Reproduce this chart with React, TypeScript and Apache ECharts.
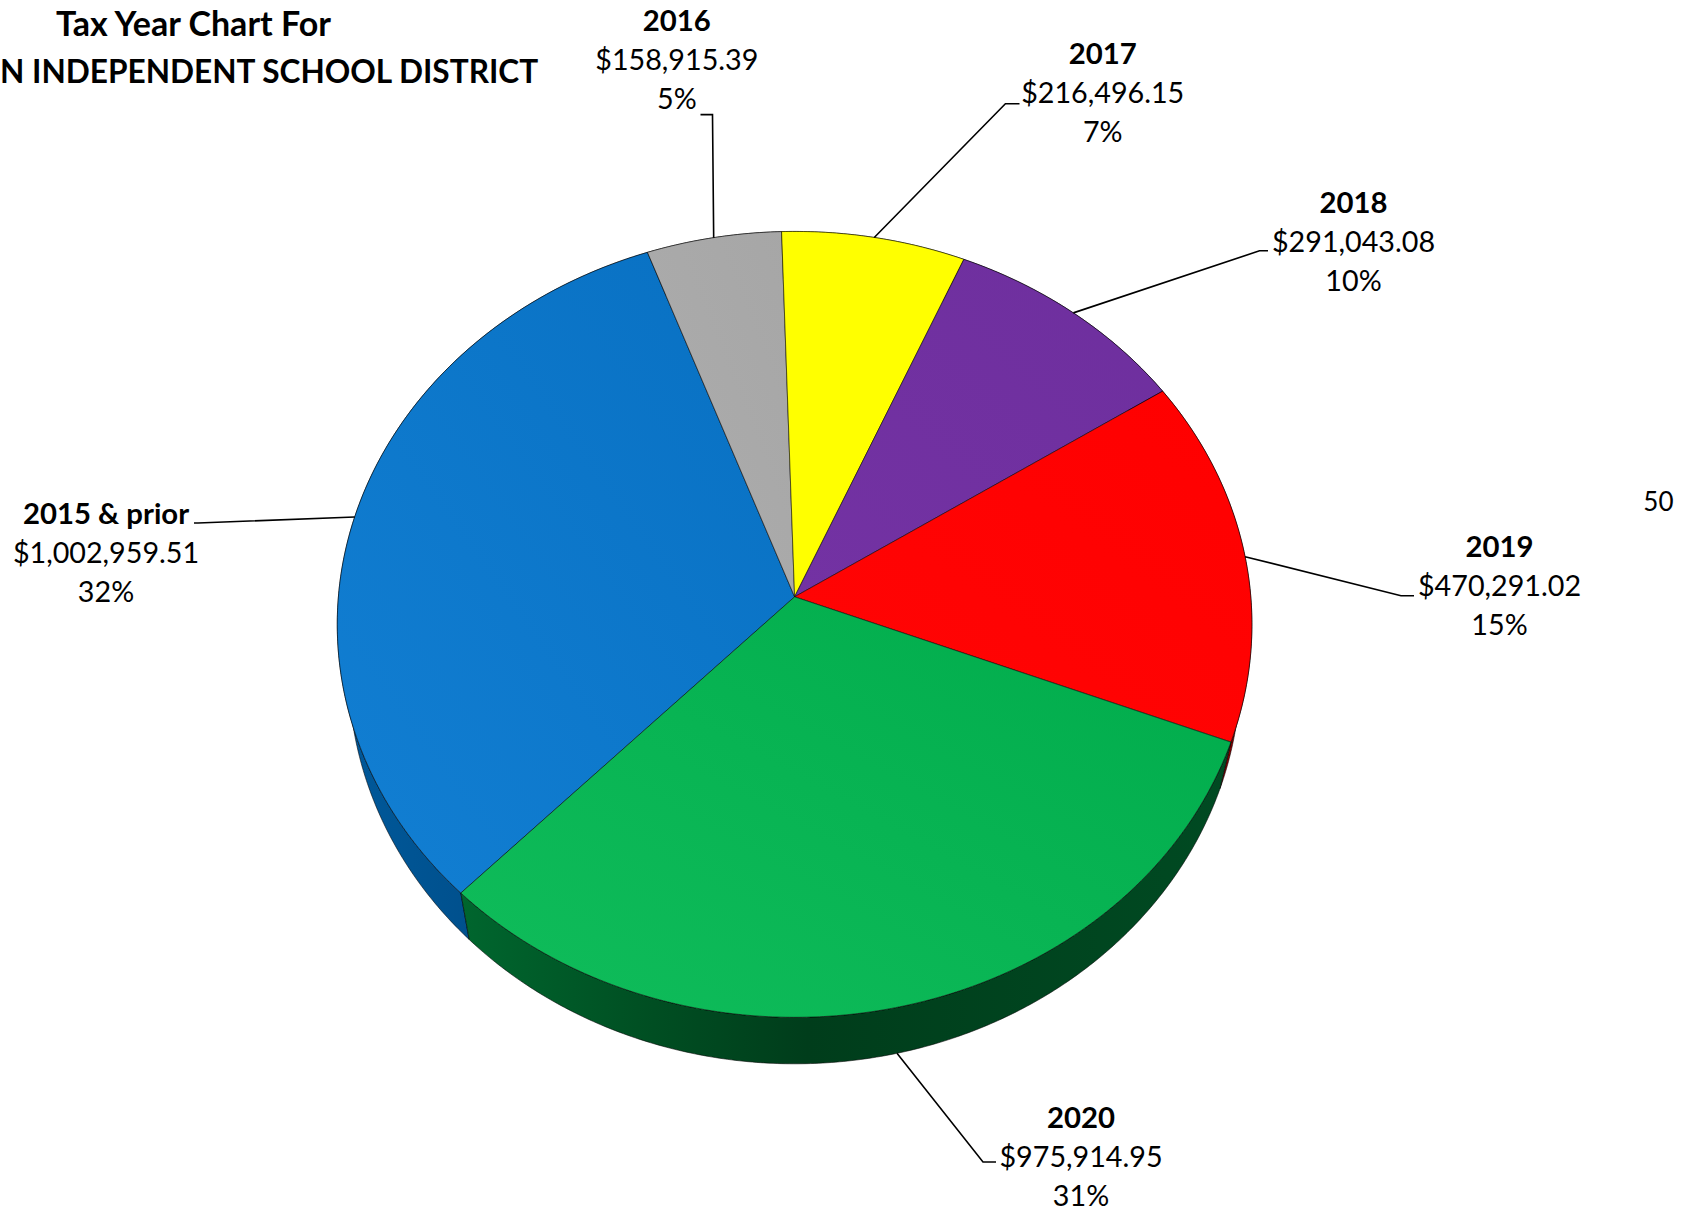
import React, { useEffect, useRef } from "react";
import * as echarts from "echarts";

const categories = ["2015 & prior", "2016", "2017", "2018", "2019", "2020"];
const amounts = [1002959.51, 158915.39, 216496.15, 291043.08, 470291.02, 975914.95];
const percentLabels = ["32%", "5%", "7%", "10%", "15%", "31%"];
const titleLines = ["Tax Year Chart For", "N INDEPENDENT SCHOOL DISTRICT"];
const strayLabel = "50";

const topFills = [
  ["#127fd3", "#0870c2"],
  ["#adadad", "#a6a6a6"],
  ["#ffff00", "#ffff00"],
  ["#7332a3", "#6e2f9e"],
  ["#ff0505", "#ff0000"],
  ["#10bd5b", "#00ab4b"],
];
const wallFills = [
  ["#00599b", "#00447a"],
  ["#555555", "#444444"],
  ["#808000", "#707000"],
  ["#381850", "#301448"],
  ["#9a0000", "#7a0000"],
  ["#00662e", "#004e22", "#003d1b", "#004a22"],
];

// Perspective projection of the pie's disc onto the page
const CX = 794.6, CY = 596.8, RX = 456.2, RY = 391, K = 0.0702;
const WALL_SCALE = 0.975, WALL_DROP = 46.5;
const START_DEG = 224;
const total = amounts.reduce((a, b) => a + b, 0);

function sliceAngles(i: number) {
  let before = 0;
  for (let j = 0; j < i; j++) before += amounts[j];
  const a0 = START_DEG + (before / total) * 360;
  const a1 = a0 + (amounts[i] / total) * 360;
  return [a0, a1];
}
function rim(deg: number): [number, number] {
  const t = (deg * Math.PI) / 180;
  const u = Math.sin(t), v = -Math.cos(t);
  const w = 1 - K * v;
  return [CX + (RX * u) / w, CY + (RY * v) / w];
}
function lower(p: [number, number]): [number, number] {
  return [CX + WALL_SCALE * (p[0] - CX), p[1] + WALL_DROP];
}
function arc(a0: number, a1: number) {
  const n = Math.max(8, Math.ceil((a1 - a0) * 2));
  const out: [number, number][] = [];
  for (let i = 0; i <= n; i++) out.push(rim(a0 + ((a1 - a0) * i) / n));
  return out;
}
function grad(c: string[], x0: number, y0: number, x1: number, y1: number) {
  const offsets = c.length === 4 ? [0, 0.25, 0.45, 1] : [0, 1];
  return new echarts.graphic.LinearGradient(
    x0, y0, x1, y1,
    c.map((color, i) => ({ offset: offsets[i], color })),
  );
}

// label placement: centre x, first-line y; elbow and end of leader
const labelAt = [
  { x: 106, y: 513.5, elbow: [198, 523], end: [194, 523] },
  { x: 676.8, y: 20.5, elbow: [712.5, 114.6], end: [700.5, 114.6] },
  { x: 1102.7, y: 53, elbow: [1005.4, 103.8], end: [1019.5, 103.8] },
  { x: 1353.5, y: 202, elbow: [1259.5, 250.8], end: [1268, 250.8] },
  { x: 1499.5, y: 546, elbow: [1401, 595.7], end: [1414, 595.7] },
  { x: 1081, y: 1117, elbow: [983, 1162], end: [996, 1162] },
];
const LINE = 38.9;
const FONT = "Lato, Carlito, sans-serif";

export default function App() {
  const ref = useRef<HTMLDivElement>(null);
  useEffect(() => {
    const chart = echarts.init(ref.current!, undefined, { renderer: "svg" });
    const graphic: any[] = [];
    titleLines.forEach((t, i) => {
      graphic.push({
        type: "text",
        x: i === 0 ? 193.5 : 0,
        y: i === 0 ? 22.5 : 70.5,
        style: {
          text: t, fontFamily: FONT, fontWeight: "bold", fontSize: i === 0 ? 34 : 31.6, fill: "#000",
          textAlign: i === 0 ? "center" : "left", textVerticalAlign: "middle",
        },
      });
    });
    categories.forEach((c, i) => {
      const l = labelAt[i];
      const [a0, a1] = sliceAngles(i);
      const mid = rim((a0 + a1) / 2);
      const start = i === 5 ? lower(mid) : mid;
      graphic.push({
        type: "polyline", z: 5,
        shape: { points: [start, l.elbow, l.end] },
        style: { stroke: "#000", lineWidth: 1.6, fill: "none" },
      });
      const lines = [
        c,
        "$" + amounts[i].toLocaleString("en-US", { minimumFractionDigits: 2, maximumFractionDigits: 2 }),
        percentLabels[i],
      ];
      lines.forEach((t, j) => {
        graphic.push({
          type: "text", x: l.x, y: l.y + j * LINE - (j === 0 ? 1 : 0), z: 6,
          style: {
            text: t, fontFamily: FONT, fontWeight: j === 0 ? "bold" : "normal", fontSize: j === 0 ? 29.3 : 28.7,
            fill: "#000", textAlign: "center", textVerticalAlign: "middle",
          },
        });
      });
    });
    graphic.push({
      type: "text", x: 1658.4, y: 500.5,
      style: { text: strayLabel, fontFamily: FONT, fontSize: 26, fill: "#000", textAlign: "center", textVerticalAlign: "middle" },
    });

    chart.setOption({
      animation: false,
      backgroundColor: "#fff",
      graphic,
      series: [
        {
          type: "custom", coordinateSystem: "none", z: 1, silent: true, data: amounts,
          renderItem: (p: any) => {
            const i = p.dataIndex;
            const [a0, a1] = sliceAngles(i);
            const up = arc(a0, a1);
            const low = up.map(lower).reverse();
            return {
              type: "polygon",
              shape: { points: [...up, ...low] },
              style: { fill: grad(wallFills[i], 0, 0, 1, 0), stroke: "rgba(0,0,0,0.55)", lineWidth: 1 },
            };
          },
        },
        {
          type: "custom", coordinateSystem: "none", z: 2, silent: true, data: amounts,
          renderItem: (p: any) => {
            const i = p.dataIndex;
            const [a0, a1] = sliceAngles(i);
            return {
              type: "polygon",
              shape: { points: [[CX, CY], ...arc(a0, a1)] },
              style: { fill: grad(topFills[i], 0, 1, 1, 0), stroke: "rgba(0,0,0,0.55)", lineWidth: 1 },
            };
          },
        },
      ],
    });
    return () => chart.dispose();
  }, []);
  return <div ref={ref} style={{ position: "absolute", left: 0, top: 0, width: 1695, height: 1212 }} />;
}
